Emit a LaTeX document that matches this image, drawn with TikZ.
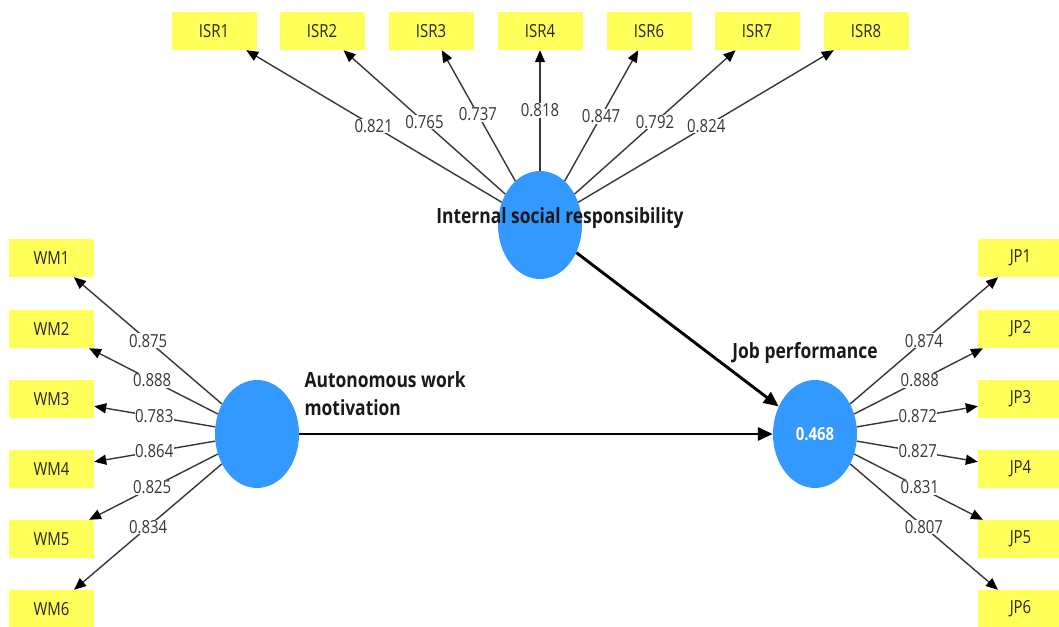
\documentclass[tikz,border=0pt]{standalone}
\usepackage{fontspec}
\setmainfont{Open Sans}[FakeStretch=0.83]
\usetikzlibrary{shapes.geometric,arrows.meta}
\definecolor{indyellow}{RGB}{255,255,90}
\definecolor{lvblue}{RGB}{51,153,255}
\definecolor{lblgray}{RGB}{55,55,55}
\begin{document}
\begin{tikzpicture}[x=1pt,y=-1pt,
  indbox/.style={fill=indyellow, minimum width=85pt, minimum height=38pt, inner sep=0pt,
    font=\fontsize{18}{20}\selectfont, text=black!85},
  lv/.style={ellipse, fill=lvblue, minimum width=84pt, minimum height=108pt, inner sep=0pt},
  loadarr/.style={draw=lblgray, line width=1.4pt, -{Triangle[length=12pt,width=10pt,color=black]}},
  structarr/.style={draw=black, line width=2.9pt, -{Triangle[length=15pt,width=13pt]}},
  wt/.style={fill=white, inner sep=0.6pt, text=lblgray, font=\fontsize{18}{20}\selectfont},
  lvtitle/.style={font=\bfseries\fontsize{21}{28}\selectfont, text=black!90}
]
\fill[white] (0,0) rectangle (1059,626);
\useasboundingbox (0,0) rectangle (1059,626);

% latent variables
\node[lv] (isr) at (540,225) {};
\node[lv] (awm) at (257,434) {};
\node[lv, text=white, font=\bfseries\fontsize{18}{20}\selectfont] (jp) at (815,434) {0.468};

% ISR indicators
\foreach \n/\x in {1/214,2/322,3/431,4/540,6/649,7/757,8/866}
  \node[indbox] (isr\n) at (\x,31) {ISR\n};
% WM indicators
\foreach \n/\y in {1/258,2/329,3/399,4/469,5/539,6/609}
  \node[indbox] (wm\n) at (51.5,\y) {WM\n};
% JP indicators
\foreach \n/\y in {1/258,2/329,3/399,4/469,5/539,6/609}
  \node[indbox] (jpi\n) at (1020.5,\y) {JP\n};

% loading arrows
\foreach \n in {1,2,3,4,6,7,8} \draw[loadarr] (isr) -- (isr\n);
\foreach \n in {1,...,6} \draw[loadarr] (awm) -- (wm\n);
\foreach \n in {1,...,6} \draw[loadarr] (jp) -- (jpi\n);

% loading labels
\foreach \n/\p/\v in {1/0.51/0.821,2/0.53/0.765,3/0.57/0.737,4/0.59/0.818,6/0.56/0.847,7/0.53/0.792,8/0.51/0.824}
  \path (isr.center) -- (isr\n.center) node[wt,pos=\p] {\v};
\foreach \n/\p/\v in {1/0.53/0.875,2/0.51/0.888,3/0.5/0.783,4/0.5/0.864,5/0.51/0.825,6/0.53/0.834}
  \path (awm.center) -- (wm\n.center) node[wt,pos=\p] {\v};
\foreach \n/\p/\v in {1/0.53/0.874,2/0.51/0.888,3/0.5/0.872,4/0.5/0.827,5/0.51/0.831,6/0.53/0.807}
  \path (jp.center) -- (jpi\n.center) node[wt,pos=\p] {\v};

% structural paths
\draw[structarr] (isr) -- (jp);
\draw[structarr] (awm) -- (jp);

% titles
\node[lvtitle] (isrt) at (560,218) {Internal social responsibility};
\node[lvtitle] (jpt) at (805,353) {Job performance};
\node[lvtitle, align=left, anchor=west] (awmt) at (301,394) {Autonomous work\\motivation};
\end{tikzpicture}
\end{document}
